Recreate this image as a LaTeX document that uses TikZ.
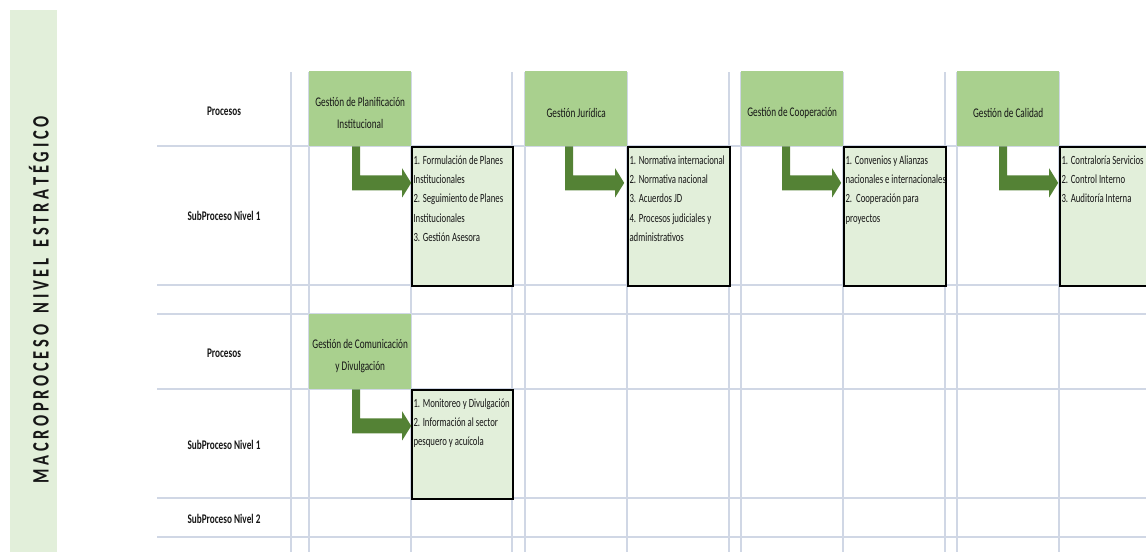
\documentclass[tikz,border=0pt]{standalone}
\usepackage{fontspec}
\setmainfont{Carlito}[FakeStretch=0.7]
\definecolor{procgreen}{HTML}{A9D08E}
\definecolor{subgreen}{HTML}{E2EFDA}
\definecolor{arrowgreen}{HTML}{548235}
\definecolor{gridc}{HTML}{D0D7E5}
\definecolor{txt}{HTML}{161616}
\newcommand\subtext[3]{\parbox[c][#2pt][t]{#1pt}{\raggedright\leftskip=1.5pt\relax\rule{0pt}{17.5pt}#3}}
\newcommand\hstrut{\rule{0pt}{17.5pt}}
\begin{document}
\begin{tikzpicture}[x=1pt,y=-1pt,
  gridline/.style={draw=gridc, line width=1.3pt},
  procbox/.style={fill=procgreen, inner sep=0pt, minimum width=102pt, minimum height=75pt,
    anchor=north west, align=center, font=\fontsize{13.2}{22}\selectfont, text=txt},
  subbox/.style={fill=subgreen, draw=black, line width=2pt, inner sep=0pt, anchor=north west,
    font=\fontsize{12.5}{19.2}\selectfont, text=txt},
  rowlabel/.style={font=\bfseries\fontsize{13.2}{15}\selectfont, text=txt},
  bentarr/.pic={\fill[arrowgreen] (0,0) -- (8,0) -- (8,29) -- (50,29) -- (50,22) -- (59,36.5)
     -- (50,51) -- (50,44) -- (0,44) -- cycle;}
]
\useasboundingbox (0,0) rectangle (1146,552);
\clip (0,0) rectangle (1146,552);
% left band
\node[fill=subgreen, inner sep=0pt, minimum width=47pt, minimum height=542pt, anchor=north west] (band) at (10,10) {};
\node[rotate=90, anchor=base, inner sep=0pt, font=\bfseries\fontsize{23.5}{26}\selectfont, text=txt] (macro) at (48.5,300)
  {M A C R O P R O C E S O\ \ \ N I V E L\ \ \ E S T R A T É G I C O};
% grid
\foreach \x in {291,309,411,512,525,627,729,741,843,945,957,1059}
  \draw[gridline] (\x,72) -- (\x,552);
\foreach \y in {146,285,314,389,498,537}
  \draw[gridline] (157,\y) -- (1146,\y);
% row labels
\node[rowlabel] (l1) at (224,111) {Procesos};
\node[rowlabel] (l2) at (224,216) {SubProceso Nivel 1};
\node[rowlabel] (l3) at (224,353) {Procesos};
\node[rowlabel] (l4) at (224,445) {SubProceso Nivel 1};
\node[rowlabel] (l5) at (224,519) {SubProceso Nivel 2};
% process boxes
\node[procbox] (p1) at (309,71) {\hstrut Gestión de Planificación\\Institucional};
\node[procbox] (p2) at (525,71) {\hstrut Gestión Jurídica};
\node[procbox] (p3) at (741,71) {\hstrut Gestión de Cooperación};
\node[procbox] (p4) at (957,71) {\hstrut Gestión de Calidad};
\node[procbox] (p5) at (309,314) {\hstrut Gestión de Comunicación\\y Divulgación};
% subprocess boxes
\node[subbox] (s1) at (411,146) {\subtext{101}{139}{1. Formulación de Planes\\Institucionales\\2. Seguimiento de Planes\\Institucionales\\3. Gestión Asesora}};
\node[subbox] (s2) at (627,146) {\subtext{102}{139}{1. Normativa internacional\\2. Normativa nacional\\3. Acuerdos JD\\4. Procesos judiciales y\\administrativos}};
\node[subbox] (s3) at (843,146) {\subtext{102}{139}{1. Convenios y Alianzas\\\mbox{nacionales e internacionales}\\2.\ \ Cooperación para\\proyectos}};
\node[subbox] (s4) at (1059,146) {\subtext{102}{139}{1. Contraloría Servicios\\2. Control Interno\\3. Auditoría Interna}};
\node[subbox] (s5) at (411,389) {\subtext{101}{109}{1. Monitoreo y Divulgación\\2. Información al sector\\pesquero y acuícola}};
% bent arrows from process to subprocess
\pic at ([xshift=-8pt]p1.south) {bentarr};
\pic at ([xshift=-11pt]p2.south) {bentarr};
\pic at ([xshift=-10pt]p3.south) {bentarr};
\pic at ([xshift=-9pt]p4.south) {bentarr};
\pic at ([xshift=-8pt]p5.south) {bentarr};
\end{tikzpicture}
\end{document}
